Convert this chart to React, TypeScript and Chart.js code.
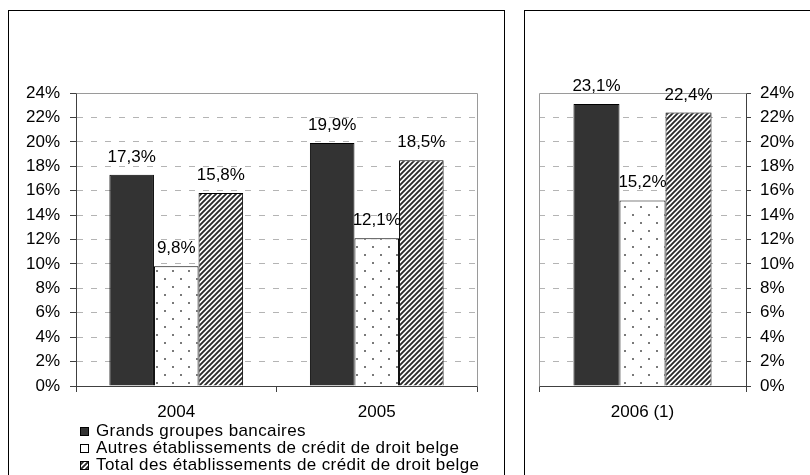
import React, { useEffect, useRef } from 'react';
import { Chart, registerables } from 'chart.js';

Chart.register(...registerables);

const FONT = "'Liberation Sans', Arial, Helvetica, sans-serif";

// Periods shown in each panel
const periodsMain = ['2004', '2005'];
const periodsLatest = ['2006 (1)'];

// Series names
const seriesNames = [
  'Grands groupes bancaires',
  'Autres établissements de crédit de droit belge',
  'Total des établissements de crédit de droit belge',
];

// Values in % for 2004, 2005, 2006 (1)
const grandsGroupes = [17.3, 19.9, 23.1];
const autresEtablissements = [9.8, 12.1, 15.2];
const totalEtablissements = [15.8, 18.5, 22.4];

// Value axis
const yMin = 0;
const yMax = 24;
const yStep = 2;

const AXIS_COLOR = '#404040';
const GRID_COLOR = '#b4b4b4';
const FRAME_COLOR = '#9a9a9a';

function dotPattern(): CanvasPattern | string {
  const c = document.createElement('canvas');
  c.width = 16;
  c.height = 16;
  const g = c.getContext('2d');
  if (!g) return '#fff';
  g.fillStyle = '#fff';
  g.fillRect(0, 0, 16, 16);
  g.fillStyle = '#7a7a7a';
  g.fillRect(3, 3, 2, 2);
  g.fillRect(11, 11, 2, 2);
  return g.createPattern(c, 'repeat') || '#fff';
}

function hatchPattern(): CanvasPattern | string {
  const p = 5;
  const c = document.createElement('canvas');
  c.width = p;
  c.height = p;
  const g = c.getContext('2d');
  if (!g) return '#777';
  g.fillStyle = '#fff';
  g.fillRect(0, 0, p, p);
  g.strokeStyle = '#2a2a2a';
  g.lineWidth = 1.9;
  g.beginPath();
  g.moveTo(-1, p + 1);
  g.lineTo(p + 1, -1);
  g.moveTo(-1, 1);
  g.lineTo(1, -1);
  g.moveTo(p - 1, p + 1);
  g.lineTo(p + 1, p - 1);
  g.stroke();
  return g.createPattern(c, 'repeat') || '#777';
}

const fmt = (v: number) => v.toFixed(1).replace('.', ',') + '%';

// Percent labels above each bar
const valueLabels = {
  id: 'valueLabels',
  afterDatasetsDraw(chart: any) {
    const ctx = chart.ctx;
    ctx.save();
    ctx.font = `17px ${FONT}`;
    ctx.fillStyle = '#000';
    ctx.textAlign = 'center';
    ctx.textBaseline = 'alphabetic';
    chart.data.datasets.forEach((ds: any, i: number) => {
      const meta = chart.getDatasetMeta(i);
      meta.data.forEach((el: any, j: number) => {
        ctx.fillText(fmt(ds.data[j]), el.x, el.y - 13);
      });
    });
    ctx.restore();
  },
};

// Grey plot-area frame on the sides that carry no axis
const plotFrame = (graySide: 'left' | 'right') => ({
  id: 'plotFrame',
  beforeDatasetsDraw(chart: any) {
    const { left, right, top, bottom } = chart.chartArea;
    const ctx = chart.ctx;
    const l = Math.round(left) + 0.5;
    const r = Math.round(right) + 0.5;
    const t = Math.round(top) + 0.5;
    const b = Math.round(bottom) + 0.5;
    const xs = graySide === 'left' ? l : r;
    ctx.save();
    ctx.strokeStyle = FRAME_COLOR;
    ctx.lineWidth = 1;
    ctx.beginPath();
    ctx.moveTo(l, t);
    ctx.lineTo(r, t);
    ctx.moveTo(xs, t);
    ctx.lineTo(xs, b);
    ctx.stroke();
    ctx.restore();
  },
});

// Series key below the left panel
const seriesKey = {
  id: 'seriesKey',
  afterDraw(chart: any) {
    const ctx = chart.ctx;
    const x0 = 71;
    const y0 = 420;
    const step = 17;
    const box = 9;
    ctx.save();
    ctx.font = `17px ${FONT}`;
    ctx.textAlign = 'left';
    ctx.textBaseline = 'middle';
    if ('letterSpacing' in ctx) (ctx as any).letterSpacing = '0.4px';
    chart.data.datasets.forEach((ds: any, i: number) => {
      const cy = y0 + i * step;
      const by = Math.round(cy - box / 2);
      ctx.fillStyle = ds.backgroundColor;
      ctx.fillRect(x0, by, box, box);
      ctx.strokeStyle = '#000';
      ctx.lineWidth = 1;
      ctx.strokeRect(x0 + 0.5, by + 0.5, box - 1, box - 1);
      ctx.fillStyle = '#000';
      ctx.fillText(ds.label, x0 + 16, cy);
    });
    ctx.restore();
  },
};

function buildDatasets(from: number, to: number, dots: any, hatch: any) {
  const values = [grandsGroupes, autresEtablissements, totalEtablissements];
  const fills = ['#333333', dots, hatch];
  return values.map((vals, i) => ({
    label: seriesNames[i],
    data: vals.slice(from, to),
    backgroundColor: fills[i],
    borderColor: '#000',
    borderWidth: 1,
    categoryPercentage: 0.667,
    barPercentage: 1,
  }));
}

function buildOptions(axisSide: 'left' | 'right', padLeft: number, padRight: number, axisWidth: number): any {
  return {
    responsive: false,
    animation: false,
    devicePixelRatio: 1,
    layout: { padding: { top: 82, left: padLeft, right: padRight, bottom: 0 } },
    plugins: {
      legend: { display: false },
      tooltip: { enabled: false },
      title: { display: false },
    },
    scales: {
      x: {
        type: 'category',
        offset: true,
        grid: {
          display: true,
          offset: true,
          drawOnChartArea: false,
          drawTicks: true,
          tickLength: 6,
          tickColor: AXIS_COLOR,
          color: AXIS_COLOR,
        },
        border: { display: true, color: AXIS_COLOR, width: 1 },
        ticks: {
          color: '#000',
          font: { size: 17, family: FONT },
          padding: 10,
          maxRotation: 0,
          autoSkip: false,
        },
        afterFit: (scale: any) => {
          scale.height = 89;
        },
      },
      y: {
        position: axisSide,
        min: yMin,
        max: yMax,
        grid: {
          color: (c: any) => (c.tick && (c.tick.value === yMin || c.tick.value === yMax) ? 'rgba(0,0,0,0)' : GRID_COLOR),
          lineWidth: 1,
          drawTicks: true,
          tickLength: axisSide === 'left' ? 6 : 5,
          tickColor: AXIS_COLOR,
          tickBorderDash: [],
        },
        border: { display: true, color: AXIS_COLOR, width: 1, dash: [6, 8] },
        ticks: {
          stepSize: yStep,
          color: '#000',
          font: { size: 17, family: FONT },
          padding: axisSide === 'left' ? 10 : 9,
          callback: (v: any) => `${v}%`,
        },
        afterFit: (scale: any) => {
          scale.width = axisWidth;
        },
      },
    },
  };
}

export default function App() {
  const mainRef = useRef<HTMLCanvasElement | null>(null);
  const latestRef = useRef<HTMLCanvasElement | null>(null);

  useEffect(() => {
    if (!mainRef.current || !latestRef.current) return;
    const dots = dotPattern();
    const hatch = hatchPattern();

    const main = new Chart(mainRef.current, {
      type: 'bar',
      data: { labels: periodsMain, datasets: buildDatasets(0, 2, dots, hatch) as any },
      options: buildOptions('left', 0, 27, 67),
      plugins: [plotFrame('right'), valueLabels, seriesKey],
    });

    const latest = new Chart(latestRef.current, {
      type: 'bar',
      data: { labels: periodsLatest, datasets: buildDatasets(2, 3, dots, hatch) as any },
      options: buildOptions('right', 14, 0, 64),
      plugins: [plotFrame('left'), valueLabels],
    });

    return () => {
      main.destroy();
      latest.destroy();
    };
  }, []);

  const panel: React.CSSProperties = {
    position: 'absolute',
    top: 10,
    height: 480,
    border: '1px solid #000',
    background: '#fff',
  };

  return (
    <div
      style={{
        position: 'fixed',
        left: 0,
        top: 0,
        width: 810,
        height: 475,
        overflow: 'hidden',
        background: '#fff',
      }}
    >
      <div style={{ ...panel, left: 8, width: 495 }}>
        <canvas ref={mainRef} width={495} height={464} style={{ display: 'block' }} />
      </div>
      <div style={{ ...panel, left: 524, width: 300 }}>
        <canvas ref={latestRef} width={285} height={464} style={{ display: 'block' }} />
      </div>
    </div>
  );
}
